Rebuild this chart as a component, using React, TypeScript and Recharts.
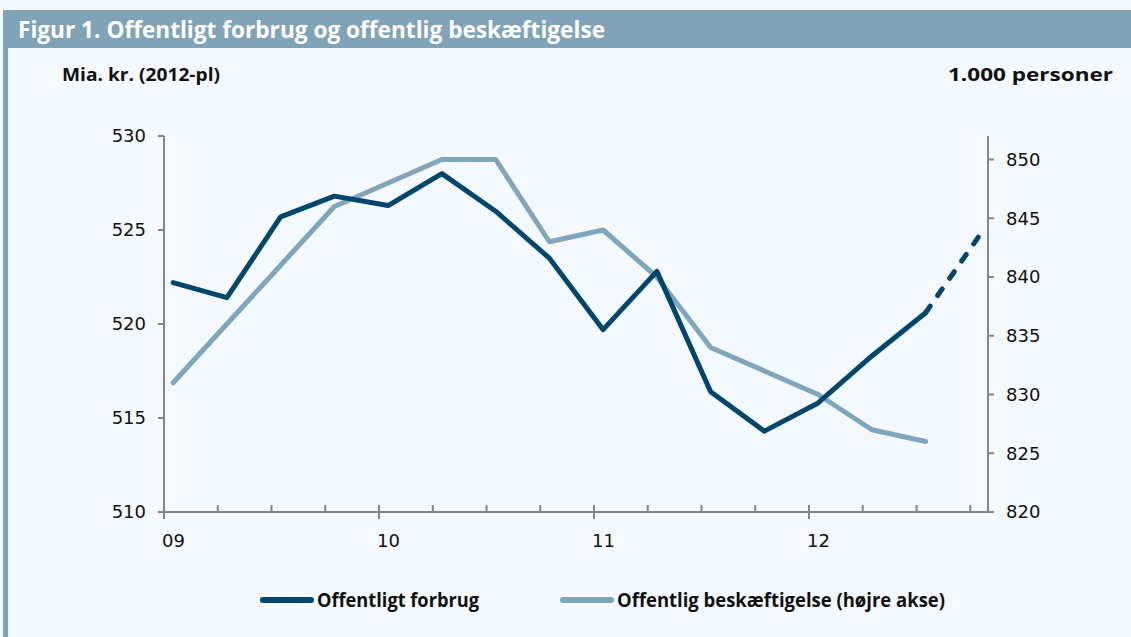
import { LineChart, Line, XAxis, YAxis } from "recharts";

// quarter index for 2009Q1 .. 2012Q4 (points sit a bit right of each tick)
const quarters = [0, 1, 2, 3, 4, 5, 6, 7, 8, 9, 10, 11, 12, 13, 14, 15];
const yearLabels: Record<number, string> = { 0: "09", 4: "10", 8: "11", 12: "12" };

// Mia. kr. (2012-pl)
const forbrug = [522.2, 521.4, 525.7, 526.8, 526.3, 528.0, 526.0, 523.5, 519.7, 522.8, 516.4, 514.3, 515.8, 518.3, 520.6, null];
// dashed forecast part
const forbrugProg = [null, null, null, null, null, null, null, null, null, null, null, null, null, null, 520.6, 524.7];
// 1.000 personer (right axis)
const beskaeftigelse = [831, 836, 841, 846, 848, 850, 850, 843, 844, 840, 834, 832, 830, 827, 826, null];

const leftTicks = [510, 515, 520, 525, 530];
const rightTicks = [820, 825, 830, 835, 840, 845, 850];

const DARK = "#00466c";
const LIGHT = "#80a6bd";
const AXIS = "#858585";
const LABEL_FONT = "'Open Sans', sans-serif";
const TICK_FONT = "DejaVu Sans";

const data = quarters.map((q, i) => ({
  x: q + 0.17,
  forbrug: forbrug[i],
  prog: forbrugProg[i],
  besk: beskaeftigelse[i],
}));

const XTick = (props: any) => {
  const { x, y, payload } = props;
  const major = payload.value % 4 === 0;
  return (
    <g>
      <line x1={x} x2={x} y1={y - 7} y2={major ? y + 7 : y} stroke={AXIS} strokeWidth={2} />
      {major && (
        <text x={x - 2} y={y + 35} textAnchor="start" fill="#111" fontSize={18} fontFamily={TICK_FONT}>
          {yearLabels[payload.value]}
        </text>
      )}
    </g>
  );
};

// title, unit labels and legend drawn on top of the chart
const Overlay = () => (
  <svg width={1131} height={637} style={{ position: "absolute", left: 0, top: 0, pointerEvents: "none" }}>
    <text x={18} y={38} fill="#fff" fontFamily={LABEL_FONT} fontWeight={700} fontSize={24} textLength={587} lengthAdjust="spacingAndGlyphs">
      Figur 1. Offentligt forbrug og offentlig beskæftigelse
    </text>
    <text x={62} y={81} fill="#111" fontFamily={LABEL_FONT} fontWeight={700} fontSize={18} textLength={158} lengthAdjust="spacingAndGlyphs">
      Mia. kr. (2012-pl)
    </text>
    <text x={948} y={81} fill="#111" fontFamily={LABEL_FONT} fontWeight={700} fontSize={18} textLength={165} lengthAdjust="spacingAndGlyphs">
      1.000 personer
    </text>
    <line x1={263} x2={311} y1={600} y2={600} stroke={DARK} strokeWidth={6} strokeLinecap="round" />
    <text x={317} y={607} fill="#111" fontFamily={LABEL_FONT} fontWeight={700} fontSize={20} textLength={162} lengthAdjust="spacingAndGlyphs">
      Offentligt forbrug
    </text>
    <line x1={563} x2={611} y1={600} y2={600} stroke={LIGHT} strokeWidth={6} strokeLinecap="round" />
    <text x={617} y={607} fill="#111" fontFamily={LABEL_FONT} fontWeight={700} fontSize={20} textLength={328} lengthAdjust="spacingAndGlyphs">
      Offentlig beskæftigelse (højre akse)
    </text>
  </svg>
);

export default function App() {
  return (
    <div style={{ position: "absolute", left: 0, top: 0, width: 1131, height: 637, background: "#f4f9fe", overflow: "hidden" }}>
      <div style={{ position: "absolute", left: 3, top: 10, width: 1128, height: 38, background: "#80a3b8" }} />
      <div style={{ position: "absolute", left: 3, top: 48, width: 5, height: 589, background: "#80a3b8" }} />
      <div style={{ position: "absolute", left: 0, top: 0 }}>
        <LineChart width={1131} height={637} data={data} margin={{ top: 136, right: 0, bottom: 95, left: 0 }}>
          <XAxis
            dataKey="x"
            type="number"
            domain={[0, 15.33]}
            ticks={quarters}
            interval={0}
            tick={<XTick />}
            tickLine={false}
            tickSize={0}
            tickMargin={0}
            height={30}
            axisLine={{ stroke: AXIS, strokeWidth: 2 }}
          />
          <YAxis
            yAxisId="left"
            width={164}
            domain={[510, 530]}
            ticks={leftTicks}
            interval={0}
            tickSize={6}
            tickMargin={12}
            tickLine={{ stroke: AXIS, strokeWidth: 2 }}
            axisLine={{ stroke: AXIS, strokeWidth: 2 }}
            tick={{ fill: "#111", fontSize: 18, fontFamily: TICK_FONT }}
          />
          <YAxis
            yAxisId="right"
            orientation="right"
            width={143}
            domain={[820, 852]}
            ticks={rightTicks}
            interval={0}
            tickSize={6}
            tickMargin={12}
            tickLine={{ stroke: AXIS, strokeWidth: 2 }}
            axisLine={{ stroke: AXIS, strokeWidth: 2 }}
            tick={{ fill: "#111", fontSize: 18, fontFamily: TICK_FONT, textAnchor: "start" }}
          />
          <Line yAxisId="right" type="linear" dataKey="besk" stroke={LIGHT} strokeWidth={5} strokeLinecap="round" strokeLinejoin="round" dot={false} activeDot={false} isAnimationActive={false} />
          <Line yAxisId="left" type="linear" dataKey="forbrug" stroke={DARK} strokeWidth={5} strokeLinecap="round" strokeLinejoin="round" dot={false} activeDot={false} isAnimationActive={false} />
          <Line yAxisId="left" type="linear" dataKey="prog" stroke={DARK} strokeWidth={5} strokeLinecap="round" strokeDasharray="8 13" dot={false} activeDot={false} isAnimationActive={false} />
        </LineChart>
      </div>
      <Overlay />
    </div>
  );
}
